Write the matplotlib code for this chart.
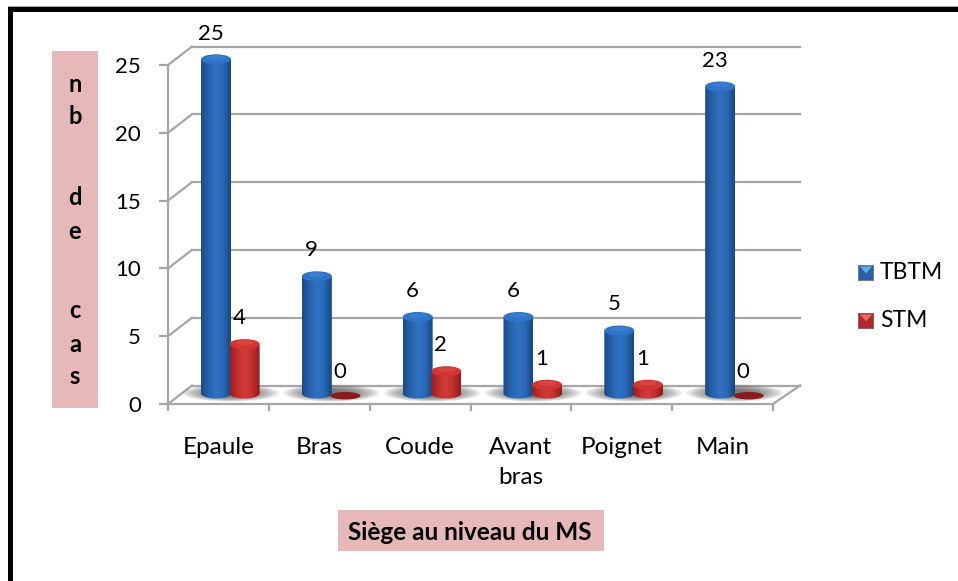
import matplotlib
matplotlib.use('Agg')
import matplotlib.pyplot as plt
import numpy as np
from matplotlib.colors import LinearSegmentedColormap
from matplotlib.patches import Ellipse, PathPatch, Polygon, Rectangle
from matplotlib.path import Path

plt.rcParams['font.family'] = ['Lato', 'DejaVu Sans']

categories = ['Epaule', 'Bras', 'Coude', 'Avant\nbras', 'Poignet', 'Main']
tbtm = [25, 9, 6, 6, 5, 23]
stm = [4, 0, 2, 1, 1, 0]
y_ticks = [0, 5, 10, 15, 20, 25]
ylabel_letters = ['n', 'b', 'd', 'e', 'c', 'a', 's']
ylabel_rows = [85, 117, 197, 231, 311, 344, 377]

W, H = 958, 581
PINK = '#e6b8b7'
GRID = '#a6a6a6'
FS = 17.5
FS_NUM = 16

fig = plt.figure(figsize=(W / 100, H / 100), dpi=100)
ax = fig.add_axes([168 / W, 1 - 404 / H, 605 / W, 339 / H])
ax.set_xlim(0, 6)
ax.set_ylim(0, 25)

# pixels to data units
PX = 6 / 605
PY = 25 / 339


def fig_rect(x0, y0, x1, y1, color, **kw):
  fig.add_artist(Rectangle((x0 / W, 1 - y1 / H), (x1 - x0) / W, (y1 - y0) / H, facecolor=color,
                           edgecolor='none', transform=fig.transFigure, **kw))


def fig_text(x, y, s, **kw):
  fig.text(x / W, 1 - y / H, s, va='center', color='black', **kw)


### frame and pink boxes
fig_rect(8, 6, W, 7, '#b0b0b0')
fig_rect(8, 7, W, 12, 'black')
fig_rect(8, 7, 13, H, 'black')
fig_rect(52, 51, 98, 408, PINK)
fig_rect(338, 510, 604, 551, PINK)
for letter, row in zip(ylabel_letters, ylabel_rows):
  fig_text(75, row, letter, ha='center', fontsize=17, fontweight='bold')
fig_text(470, 532, 'Siège au niveau du MS', ha='center', fontsize=FS, fontweight='bold')

### axes
for side in ['top', 'right']:
  ax.spines[side].set_visible(False)
for side in ['left', 'bottom']:
  ax.spines[side].set_color(GRID)
  ax.spines[side].set_linewidth(1.6)
ax.set_yticks(y_ticks)
ax.set_xticks(np.arange(0, 7))
ax.set_xticklabels([])
ax.set_xticks(np.arange(len(categories)) + 0.5, labels=categories, minor=True)
ax.tick_params(axis='x', which='major', color=GRID, width=1.6, length=5)
ax.tick_params(axis='x', which='minor', length=0, pad=24, labelsize=FS)
ax.tick_params(axis='y', color=GRID, width=1.6, length=6.5, pad=13, labelsize=FS_NUM)
for lab in ax.get_xticklabels(minor=True):
  lab.set_linespacing(1.5)
ax.patch.set_visible(False)

### back wall and floor
back_x = 24 * PX
back_y = 18.5 * PY
right_x = 6 + 27 * PX
for v in y_ticks:
  ax.plot([back_x, right_x], [v + back_y, v + back_y], color=GRID, lw=1.6, clip_on=False, zorder=1)
  ax.plot([0, back_x], [v, v + back_y], color=GRID, lw=1.6, clip_on=False, zorder=1)
ax.plot([6, right_x], [0, back_y], color=GRID, lw=1.6, clip_on=False, zorder=1)

### cylinders
blue_cmap = LinearSegmentedColormap.from_list('b', ['#1a4a85', '#2763ab', '#2f72c4', '#2a68b6', '#184580'])
red_cmap = LinearSegmentedColormap.from_list('r', ['#96201f', '#c0302e', '#d23c38', '#bf2f2d', '#8f1d1d'])
grad = np.linspace(0, 1, 64).reshape(1, -1)
bar_w = 30 * PX
base_y = 10.5 * PY
lift = 5.7 * PY
rim = 5 * PY


def shadow(xc):
  for k in range(10):
    ax.add_patch(Ellipse((xc, 11 * PY), (96 - 7 * k) * PX, (17 - 1.1 * k) * PY, facecolor='#505050',
                         edgecolor='none', alpha=0.12, zorder=1.5, clip_on=False))


def cylinder(xc, v, cmap, top, shine, flat):
  if v == 0:
    ax.add_patch(Ellipse((xc, 8.3 * PY), bar_w, 7.5 * PY, facecolor=flat, edgecolor='none', zorder=3))
    return
  # side of the cylinder, rounded at the bottom
  t = np.linspace(0, np.pi, 40)
  xs = xc + bar_w / 2 * np.cos(t)
  ys = base_y - rim * np.sin(t)
  verts = [(xc - bar_w / 2, v + lift)] + list(zip(xs[::-1], ys[::-1])) + [(xc + bar_w / 2, v + lift)]
  body = PathPatch(Path(verts + verts[:1]), facecolor='none', edgecolor='none', transform=ax.transData,
                   clip_on=False)
  ax.add_patch(body)
  im = ax.imshow(grad, cmap=cmap, aspect='auto', zorder=3,
                 extent=[xc - bar_w / 2, xc + bar_w / 2, 0, v + lift + 1])
  im.set_clip_box(fig.bbox)
  im.set_clip_path(body)
  ax.add_patch(Ellipse((xc, v + lift), bar_w, 2 * rim, facecolor=top, edgecolor='none', zorder=4, clip_on=False))
  ax.add_patch(Ellipse((xc, v + lift + 0.3 * rim), 0.6 * bar_w, 0.9 * rim, facecolor=shine, edgecolor='none',
                       zorder=5, alpha=0.5, clip_on=False))


def value_label(xc, v):
  if v == 0:
    y, gap = 8.3 * PY, 24
  else:
    y, gap = v + lift, 25 if v > 20 else 26
  ax.annotate(str(v), (xc, y), xytext=(-5.5, gap), textcoords='offset pixels', ha='center', va='center',
              fontsize=FS_NUM, zorder=6, annotation_clip=False)


for i in range(len(categories)):
  x_blue = i + 0.476
  x_red = i + 0.76
  shadow(i + 0.62)
  cylinder(x_blue, tbtm[i], blue_cmap, '#2f74c8', '#4088da', '#1f5a9e')
  cylinder(x_red, stm[i], red_cmap, '#d03733', '#e4504c', '#8a1a1c')
  value_label(x_blue, tbtm[i])
  value_label(x_red, stm[i])
ax.set_xlim(0, 6)
ax.set_ylim(0, 25)

### legend
for row, name, base, tip, edge in [(272.5, 'TBTM', '#2a5fa8', '#5aaeea', '#6d7f95'),
                                   (320.5, 'STM', '#b02a2c', '#ee6a66', '#8d5c5e')]:
  fig_rect(858, row - 8, 874, row + 8, edge)
  fig_rect(859, row - 7, 873, row + 7, base)
  fig.add_artist(Polygon([(860 / W, 1 - (row - 6) / H), (872 / W, 1 - (row - 6) / H), (866 / W, 1 - (row + 1) / H)],
                         closed=True, facecolor=tip, edgecolor='none', transform=fig.transFigure))
  fig_text(880, row, name, ha='left', fontsize=16.5)

fig.savefig('out.png', dpi=100)
